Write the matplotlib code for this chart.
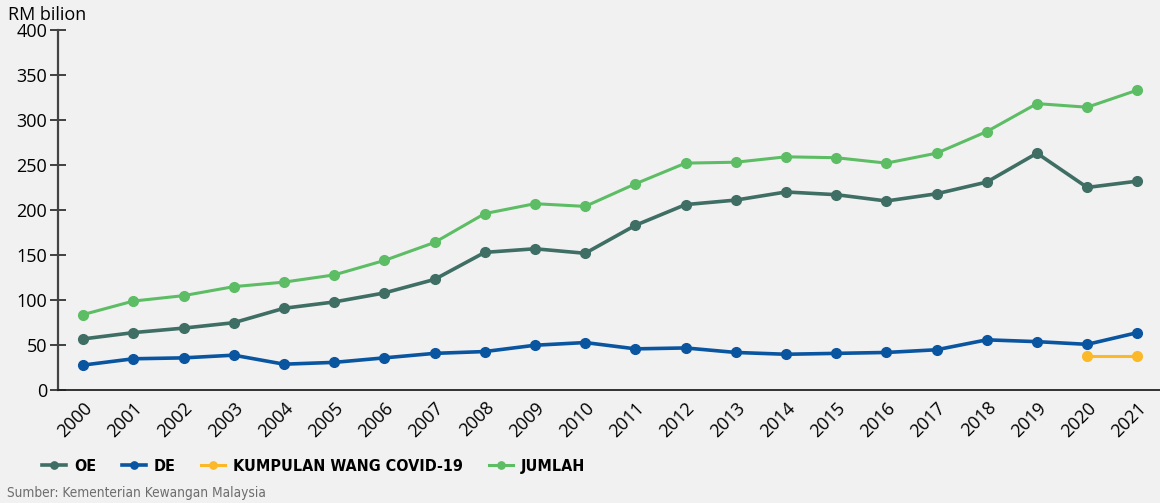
# Perbelanjaan kerajaan: OE, DE, Kumpulan Wang COVID-19 dan jumlah, 2000-2021
import matplotlib.pyplot as plt
from matplotlib.font_manager import FontProperties

years = list(range(2000, 2022))
oe = [57, 64, 69, 75, 91, 98, 108, 123, 153, 157, 152, 183, 206, 211,
      220, 217, 210, 218, 231, 263, 225, 232]
de = [28, 35, 36, 39, 29, 31, 36, 41, 43, 50, 53, 46, 47, 42,
      40, 41, 42, 45, 56, 54, 51, 64]
covid_years = [2020, 2021]
covid = [38, 38]
jumlah = [84, 99, 105, 115, 120, 128, 144, 164, 196, 207, 204, 229, 252, 253,
          259, 258, 252, 263, 287, 318, 314, 333]

series_names = ['OE', 'DE', 'KUMPULAN WANG COVID-19', 'JUMLAH']
colors = ['#3f6e64', '#0a55a0', '#fbb829', '#5dbd65']
y_ticks = [0, 50, 100, 150, 200, 250, 300, 350, 400]

bg = '#f1f1f1'
plt.rcParams['font.family'] = ['Open Sans', 'DejaVu Sans']

fig = plt.figure(figsize=(11.6, 5.03), dpi=100, facecolor=bg)
ax = fig.add_axes([0.05, 0.224, 0.95, 0.717], facecolor=bg)

ax.plot(years, oe, color=colors[0], lw=2.6, marker='o', ms=7, label=series_names[0], zorder=3)
ax.plot(years, de, color=colors[1], lw=2.6, marker='o', ms=7, label=series_names[1], zorder=3)
ax.plot(covid_years, covid, color=colors[2], lw=2.2, marker='o', ms=7, label=series_names[2], zorder=3)
ax.plot(years, jumlah, color=colors[3], lw=2.2, marker='o', ms=7, label=series_names[3], zorder=3)

ax.set_xlim(1999.5, 2021.45)
ax.set_ylim(0, 400)
ax.set_yticks(y_ticks)
ax.set_xticks(years)
ax.set_xticklabels([str(y) for y in years], rotation=45, ha='right',
                   rotation_mode='anchor', fontsize=13)
ax.tick_params(axis='y', direction='inout', length=11.5, width=1.3,
               labelsize=13, color='#333333', pad=2)
ax.tick_params(axis='x', length=0, pad=6)

for s in ['top', 'right']:
    ax.spines[s].set_visible(False)
ax.spines['left'].set_color('#444444')
ax.spines['left'].set_linewidth(1.6)
ax.spines['bottom'].set_color('#222222')
ax.spines['bottom'].set_linewidth(1.3)

fig.text(0.007, 0.97, 'RM bilion', fontsize=13, va='center', ha='left')

# condensed bold for the legend, like the original
leg_font = FontProperties(family='DejaVu Sans', stretch='condensed',
                          weight='bold', size=11.5)
leg = fig.legend(loc='center left', bbox_to_anchor=(0.024, 0.073), ncol=4,
                 frameon=False, handlelength=1.5, handletextpad=0.5,
                 columnspacing=1.6, markerscale=0.75, prop=leg_font)

src_font = FontProperties(family='DejaVu Sans', stretch='condensed', size=9.8)
fig.text(0.006, 0.02, 'Sumber: Kementerian Kewangan Malaysia',
         fontproperties=src_font, color='#6d6d6d', ha='left', va='center')

fig.savefig('out.png', dpi=100, facecolor=bg)
